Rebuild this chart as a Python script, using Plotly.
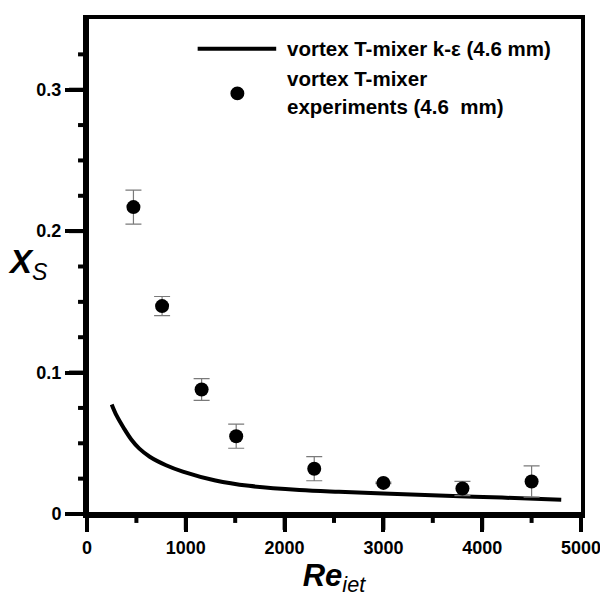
import plotly.graph_objects as go

# k-epsilon simulation curve (vortex T-mixer, 4.6 mm)
re_ke = [250, 300, 370, 450, 530, 635, 800, 970, 1300, 1640, 2150, 2550, 3000, 3560, 4200, 4800]
xs_ke = [0.0775, 0.0695, 0.061, 0.0525, 0.0462, 0.0405, 0.0345, 0.030, 0.0237, 0.0199, 0.0170,
         0.0157, 0.0145, 0.0131, 0.0116, 0.0100]

# experiments (vortex T-mixer, 4.6 mm)
re_exp = [470, 760, 1160, 1510, 2300, 3000, 3800, 4500]
xs_exp = [0.217, 0.147, 0.088, 0.055, 0.032, 0.022, 0.018, 0.023]
xs_err = [0.012, 0.0068, 0.0077, 0.0085, 0.0085, 0.0005, 0.005, 0.011]

# axes ticks
x_major = [0, 1000, 2000, 3000, 4000, 5000]
x_minor = [500, 1500, 2500, 3500, 4500]
y_major = [0, 0.1, 0.2, 0.3]
y_minor = [0.025, 0.05, 0.075, 0.125, 0.15, 0.175, 0.225, 0.25, 0.275, 0.325]

legend_line = "vortex T-mixer k-ε (4.6 mm)"
legend_pts = ["vortex T-mixer", "experiments (4.6\u00a0 mm)"]

FONT = "Arial"

FIG_W, FIG_H = 600, 591
ML, MR, MT, MB = 79, 25, 7, 85
PW, PH = FIG_W - ML - MR, FIG_H - MT - MB

fig = go.Figure()
fig.add_trace(go.Scatter(
    x=re_ke, y=xs_ke, mode="lines", line=dict(color="black", width=4, shape="spline"),
    name=legend_line, showlegend=False, hoverinfo="skip"))
fig.add_trace(go.Scatter(
    x=re_exp, y=xs_exp, mode="markers",
    marker=dict(color="black", size=14, symbol="circle"),
    error_y=dict(type="data", array=xs_err, visible=True, color="#7a7a7a", thickness=1.2, width=8),
    name=" ".join(legend_pts), showlegend=False))

tick_font = dict(family=FONT, size=18, color="black", weight="bold")

fig.update_xaxes(
    range=[0, 5000], tickmode="array", tickvals=x_major, ticktext=[str(v) for v in x_major],
    showline=True, linewidth=4, linecolor="black", mirror=True,
    ticks="outside", ticklen=14, tickwidth=4, tickcolor="black",
    showgrid=False, zeroline=False, tickfont=tick_font,
    title=dict(text="<i><b>Re</b><sub>iet</sub></i>", font=dict(family=FONT, size=31, color="black"), standoff=6),
)
fig.update_yaxes(
    range=[0, 0.35], tickmode="array", tickvals=y_major, ticktext=["0", "0.1", "0.2", "0.3"],
    showline=True, linewidth=4, linecolor="black", mirror=True,
    ticks="outside", ticklen=18, tickwidth=4, tickcolor="black",
    showgrid=False, zeroline=False, tickfont=tick_font,
)

ax_line = dict(color="black", width=4)
fig.add_shape(type="line", xref="paper", yref="paper", x0=0, x1=0,
              y0=-18 / PH, y1=1 + 4 / PH, line=ax_line)
fig.add_shape(type="line", xref="paper", yref="paper", x0=-18 / PW, x1=1 + 4 / PW,
              y0=0, y1=0, line=ax_line)
for v in x_major:
    fig.add_shape(type="line", xref="x", yref="paper", x0=v, x1=v, y0=0, y1=-16 / PH, line=ax_line)
for v in x_minor:
    fig.add_shape(type="line", xref="x", yref="paper", x0=v, x1=v, y0=0, y1=-9 / PH, line=ax_line)
for v in y_major:
    fig.add_shape(type="line", xref="paper", yref="y", x0=0, x1=-18 / PW, y0=v, y1=v, line=ax_line)
for v in y_minor:
    fig.add_shape(type="line", xref="paper", yref="y", x0=0, x1=-9 / PW, y0=v, y1=v, line=ax_line)

fig.add_annotation(
    xref="paper", yref="paper", x=-0.075, y=0.505, xanchor="right", yanchor="middle",
    text="<i><b>X</b><sub>S</sub></i>", showarrow=False,
    font=dict(family=FONT, size=33, color="black"))

fig.add_shape(type="line", xref="paper", yref="paper", x0=0.224, x1=0.383, y0=0.94, y1=0.94,
              line=dict(color="black", width=4))
fig.add_shape(type="circle", xref="paper", yref="paper", x0=0.3044 - 7 / PW, x1=0.3044 + 7 / PW,
              y0=0.8497 - 7 / PH, y1=0.8497 + 7 / PH, fillcolor="black", line=dict(color="black", width=0))
leg_font = dict(family=FONT, size=20.5, color="black", weight="bold")
fig.add_annotation(xref="paper", yref="paper", x=0.401, y=0.94, xanchor="left", yanchor="middle",
                   text=legend_line, showarrow=False, font=leg_font)
fig.add_annotation(xref="paper", yref="paper", x=0.401, y=0.88, xanchor="left", yanchor="middle",
                   text=legend_pts[0], showarrow=False, font=leg_font)
fig.add_annotation(xref="paper", yref="paper", x=0.401, y=0.823, xanchor="left", yanchor="middle",
                   text=legend_pts[1], showarrow=False, font=leg_font)

fig.update_layout(
    width=FIG_W, height=FIG_H,
    margin=dict(l=ML, r=MR, t=MT, b=MB),
    paper_bgcolor="white", plot_bgcolor="white",
    showlegend=False,
)

fig.write_html("out.html")
